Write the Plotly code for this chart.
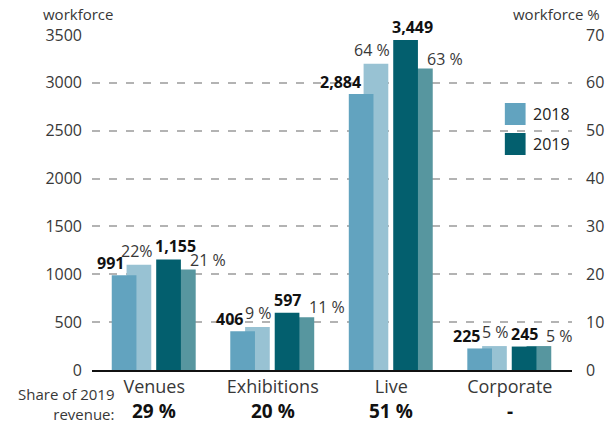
import plotly.graph_objects as go

categories = ["Venues", "Exhibitions", "Live", "Corporate"]
workforce_2018 = [991, 406, 2884, 225]
workforce_2019 = [1155, 597, 3449, 245]
share_2018 = [22, 9, 64, 5]
share_2019 = [21, 11, 63, 5]
share_2018_text = ["22%", "9 %", "64 %", "5 %"]
share_2019_text = ["21 %", "11 %", "63 %", "5 %"]
revenue_share_2019 = ["29 %", "20 %", "51 %", "-"]
left_ticks = [0, 500, 1000, 1500, 2000, 2500, 3000, 3500]
right_ticks = [0, 10, 20, 30, 40, 50, 60, 70]

C_2018 = "#62a3bf"
C_2018_P = "#98c2d3"
C_2019 = "#035f6e"
C_2019_P = "#57969f"
FONT = "Open Sans"
TXT = "#383838"

W = 25 / 120.0
fig = go.Figure()
# percentage bars (primary y, right side, drawn below)
fig.add_trace(go.Bar(x=categories, y=share_2018, width=W, offset=-28 / 120.0,
                     marker=dict(color=C_2018_P, line_width=0), yaxis="y", showlegend=False))
fig.add_trace(go.Bar(x=categories, y=share_2019, width=W, offset=17 / 120.0,
                     marker=dict(color=C_2019_P, line_width=0), yaxis="y", showlegend=False))
# workforce bars (overlaying y2, left side, drawn on top)
fig.add_trace(go.Bar(x=categories, y=workforce_2018, width=W, offset=-43 / 120.0,
                     marker=dict(color=C_2018, line_width=0), yaxis="y2", showlegend=False))
fig.add_trace(go.Bar(x=categories, y=workforce_2019, width=W, offset=2 / 120.0,
                     marker=dict(color=C_2019, line_width=0), yaxis="y2", showlegend=False))

ann = []
for i, c in enumerate(categories):
    ann.append(dict(x=c, y=workforce_2018[i], xref="x", yref="y2", text=f"<b>{workforce_2018[i]:,}</b>",
                    xanchor="right", yanchor="bottom", xshift=-28, yshift=-1, showarrow=False,
                    font=dict(family=FONT, size=16, color="#111")))
    ann.append(dict(x=c, y=workforce_2019[i], xref="x", yref="y2", text=f"<b>{workforce_2019[i]:,}</b>",
                    xanchor="left", yanchor="bottom", xshift=-1, yshift=0, showarrow=False,
                    font=dict(family=FONT, size=16, color="#111")))
    ann.append(dict(x=c, y=share_2018[i], xref="x", yref="y", text=share_2018_text[i],
                    xanchor="right", yanchor="bottom", xshift=1, yshift=1, showarrow=False,
                    font=dict(family=FONT, size=16, color=TXT)))
    ann.append(dict(x=c, y=share_2019[i], xref="x", yref="y", text=share_2019_text[i],
                    xanchor="left", yanchor="bottom", xshift=34, yshift=-3, showarrow=False,
                    font=dict(family=FONT, size=16, color=TXT)))
    ann.append(dict(x=c, y=0, xref="x", yref="paper", text=f"<b>{revenue_share_2019[i]}</b>",
                    xanchor="center", yanchor="middle", yshift=-41, showarrow=False,
                    font=dict(family=FONT, size=19, color="#111")))

ann.append(dict(x=0, y=0, xref="paper", yref="paper", text="Share of 2019<br>revenue:",
                xanchor="right", yanchor="middle", align="right", xshift=24, yshift=-34,
                showarrow=False, font=dict(family=FONT, size=15, color=TXT)))
ann.append(dict(x=0, y=1, xref="paper", yref="paper", text="workforce",
                xanchor="left", yanchor="middle", xshift=-51, yshift=21,
                showarrow=False, font=dict(family=FONT, size=15, color=TXT)))
ann.append(dict(x=1, y=1, xref="paper", yref="paper", text="workforce %",
                xanchor="right", yanchor="middle", xshift=30, yshift=21,
                showarrow=False, font=dict(family=FONT, size=15, color=TXT)))

# legend drawn as swatches + labels
shapes = []
for label, col, yc in [("2018", C_2018, 114), ("2019", C_2019, 144)]:
    y_top = (370 - (yc - 11)) / 335.0
    y_bot = (370 - (yc + 11)) / 335.0
    shapes.append(dict(type="rect", xref="paper", yref="paper",
                       x0=(510 - 92) / 486.0, x1=(531 - 92) / 486.0, y0=y_bot, y1=y_top,
                       fillcolor=col, line_width=0, layer="above"))
    ann.append(dict(x=(536 - 92) / 486.0, y=(370 - yc) / 335.0, xref="paper", yref="paper",
                    text=label, xanchor="left", yanchor="middle", showarrow=False,
                    font=dict(family=FONT, size=16, color="#222")))

fig.update_layout(
    width=616, height=423,
    margin=dict(l=92, r=38, t=35, b=53),
    paper_bgcolor="white", plot_bgcolor="white",
    barmode="overlay",
    font=dict(family=FONT, size=16, color=TXT),
    xaxis=dict(type="category", range=[-0.525, 3.525], showgrid=False, ticks="",
               showline=True, linecolor="#111", linewidth=2,
               tickfont=dict(family=FONT, size=18, color=TXT), ticklabelstandoff=-1),
    yaxis=dict(side="right", range=[0, 70], tickvals=right_ticks, showgrid=True,
               gridcolor="#b3b3b3", griddash="8px,9px", gridwidth=1.5, zeroline=False,
               tickfont=dict(family=FONT, size=16, color=TXT), ticklabelstandoff=13),
    yaxis2=dict(side="left", overlaying="y", range=[0, 3500], tickvals=left_ticks,
                showgrid=False, zeroline=False,
                tickfont=dict(family=FONT, size=16, color=TXT), ticklabelstandoff=9),
    annotations=ann,
    shapes=shapes,
)

fig.write_html("out.html", config={"displayModeBar": False},
               post_script="document.body.style.margin='0';document.body.style.overflow='hidden';")
